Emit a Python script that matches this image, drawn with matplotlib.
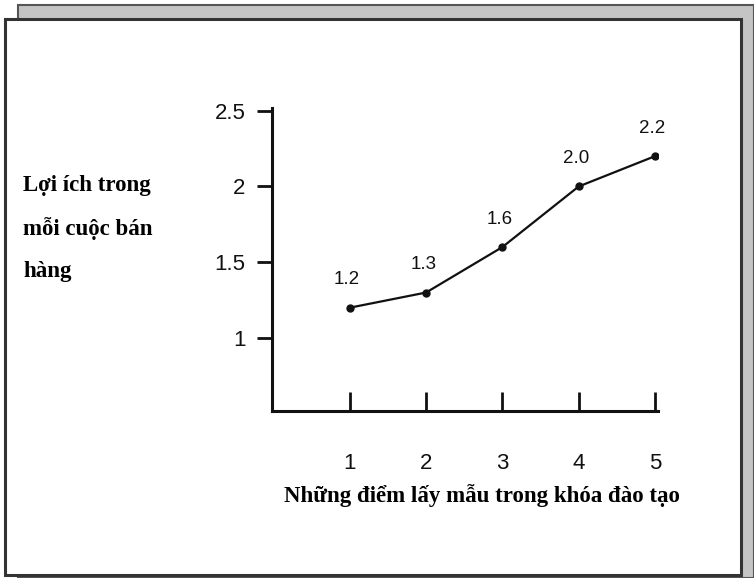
import matplotlib
matplotlib.use("Agg")
import matplotlib.pyplot as plt
from matplotlib.patches import Rectangle

# data
points = [1, 2, 3, 4, 5]
benefit = [1.2, 1.3, 1.6, 2.0, 2.2]
point_labels = ["1.2", "1.3", "1.6", "2.0", "2.2"]
yticks = [1, 1.5, 2, 2.5]
ytick_labels = ["1", "1.5", "2", "2.5"]
ylabel_lines = ["Lợi ích trong", "mỗi cuộc bán", "hàng"]
xlabel = "Những điểm lấy mẫu trong khóa đào tạo"

W, H = 754, 578
fig = plt.figure(figsize=(W / 100, H / 100), dpi=100)

# stacked-page frame
back = Rectangle((18 / W, 0), (W - 18) / W, (H - 5) / H, transform=fig.transFigure,
                 facecolor="#c4c4c4", edgecolor="#555555", linewidth=1.5, zorder=0)
front = Rectangle((5 / W, 3 / H), (741 - 5) / W, (H - 19 - 3) / H, transform=fig.transFigure,
                  facecolor="white", edgecolor="#333333", linewidth=2.2, zorder=1)
fig.patches.extend([back, front])

ax = fig.add_axes([272 / W, (H - 411) / H, (658 - 272) / W, (411 - 108) / H])
ax.set_facecolor("none")
ax.set_zorder(2)

ax.plot(points, benefit, color="#111111", linewidth=1.6, marker="o", markersize=5)
for x, y, t in zip(points, benefit, point_labels):
    ax.annotate(t, (x, y), xytext=(-2, 20), textcoords="offset points",
                ha="center", va="center", fontsize=13.5, family="Liberation Sans",
                color="#111111")

ax.set_xlim(-0.02, 5.04)
ax.set_ylim(0.518, 2.518)
ax.set_xticks(points)
ax.set_yticks(yticks)
ax.set_yticklabels(ytick_labels)

for s in ["top", "right"]:
    ax.spines[s].set_visible(False)
for s in ["left", "bottom"]:
    ax.spines[s].set_linewidth(2.2)
    ax.spines[s].set_color("#111111")

ax.tick_params(axis="x", direction="in", length=14, width=2, pad=30,
               labelsize=16, colors="#111111")
ax.tick_params(axis="y", direction="out", length=11, width=2, pad=8,
               labelsize=16, colors="#111111")
for lab in ax.get_xticklabels() + ax.get_yticklabels():
    lab.set_family("Liberation Sans")

fig.text(482 / W, 1 - 496 / H, xlabel, ha="center", va="center",
         fontsize=16.5, fontweight="bold", family="Liberation Serif")
for i, line in enumerate(ylabel_lines):
    fig.text(23 / W, 1 - (186 + 43 * i) / H, line, ha="left", va="center",
             fontsize=16.5, fontweight="bold", family="Liberation Serif")

fig.savefig("out.png", dpi=100)
